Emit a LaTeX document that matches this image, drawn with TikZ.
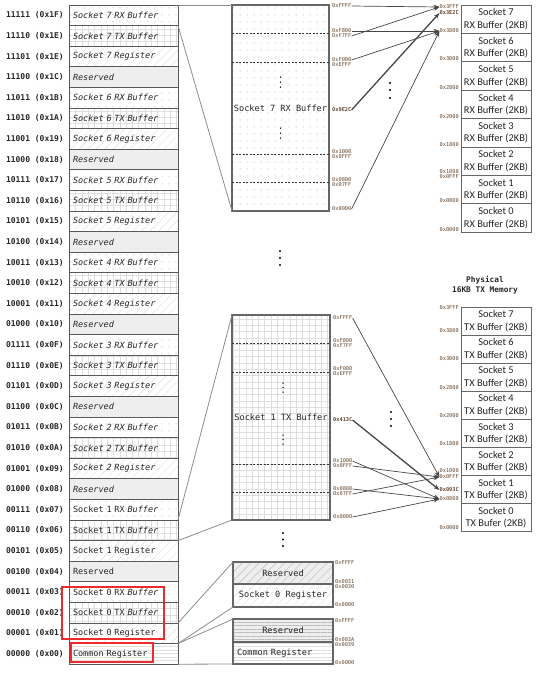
\documentclass[tikz,border=0pt]{standalone}
\usepackage{fontspec}
\usetikzlibrary{patterns.meta,arrows.meta}
\newfontfamily\monof[ItalicFont={DejaVu Sans Mono Oblique},BoldFont={DejaVu Sans Mono Bold}]{DejaVu Sans Mono}
\newfontfamily\calf{Carlito}
\definecolor{addrc}{RGB}{100,70,45}
\definecolor{patc}{RGB}{222,222,222}
\definecolor{dotc}{RGB}{210,210,210}
\definecolor{resc}{RGB}{238,238,238}
\definecolor{hlred}{RGB}{234,44,44}
\newcommand\mrow[5]{%
  \node[#3] (r#1) at (69,#2) {#5};
  \node[lab] (l#1) at ([xshift=-5pt]r#1.west) {#4};}
\begin{document}
\begin{tikzpicture}[x=1pt,y=-1pt,
  rowbox/.style={draw=black!65, line width=0.9pt, minimum width=109pt, minimum height=20.6pt, text width=101pt, inner xsep=4pt, inner ysep=0pt, outer sep=0pt, align=left, anchor=north west, font=\monof\fontsize{8.5}{9}\selectfont, text=black!85},
  rx/.style={rowbox, pattern={Dots[distance=6.5pt,radius=0.8pt]}, pattern color=dotc},
  tx/.style={rowbox, pattern={Hatch[distance=6.3pt,line width=0.4pt]}, pattern color=patc},
  reg/.style={rowbox, pattern={Lines[angle=45,distance=6pt,line width=0.4pt]}, pattern color=patc},
  res/.style={rowbox, fill=resc},
  com/.style={rowbox, pattern={Lines[angle=0,distance=3.5pt,line width=0.4pt]}, pattern color=patc},
  lab/.style={anchor=east, inner sep=0pt, font=\monof\bfseries\fontsize{8}{9}\selectfont, text=black!85},
  addr/.style={anchor=west, inner sep=0pt, font=\monof\fontsize{5.3}{6}\selectfont, text=addrc},
  addrb/.style={addr, font=\monof\bfseries\fontsize{5.3}{6}\selectfont},
  paddr/.style={addr, anchor=east},
  paddrb/.style={addrb, anchor=east},
  blk/.style={draw=black!60, line width=1.1pt, anchor=north west, outer sep=0pt, inner sep=0pt, font=\monof\fontsize{8.6}{10}\selectfont, text=black!85},
  phys/.style={draw=black!60, line width=0.9pt, fill=white, anchor=north west, outer sep=0pt, inner sep=0pt, minimum width=70pt, align=center, font=\calf\fontsize{10.4}{12.5}\selectfont, text=black!85},
  arr/.style={draw=black!72, line width=0.7pt, -{Stealth[length=6pt,width=4.5pt]}},
  arrb/.style={arr, line width=1.3pt},
  conn/.style={draw=black!45, line width=0.8pt},
  dashln/.style={draw=black!80, line width=0.6pt, dash pattern=on 2pt off 1.5pt},
  hl/.style={draw=hlred, line width=2.5pt},
  bigdot/.style={fill=black},
  title/.style={align=center, inner sep=0pt, font=\monof\bfseries\fontsize{7.8}{10}\selectfont, text=black!85}
]
\useasboundingbox (0,0) rectangle (548,678);

% ---------------- left column ----------------
\mrow{0}{5}{rx}{11111 (0x1F)}{\itshape Socket 7 RX Buffer}
\mrow{1}{25.6}{tx}{11110 (0x1E)}{\itshape Socket 7 TX Buffer}
\mrow{2}{46.2}{reg}{11101 (0x1E)}{\itshape Socket 7 Register}
\mrow{3}{66.8}{res}{11100 (0x1C)}{\itshape Reserved}
\mrow{4}{87.4}{rx}{11011 (0x1B)}{\itshape Socket 6 RX Buffer}
\mrow{5}{108}{tx}{11010 (0x1A)}{\itshape Socket 6 TX Buffer}
\mrow{6}{128.6}{reg}{11001 (0x19)}{\itshape Socket 6 Register}
\mrow{7}{149.2}{res}{11000 (0x18)}{\itshape Reserved}
\mrow{8}{169.8}{rx}{10111 (0x17)}{\itshape Socket 5 RX Buffer}
\mrow{9}{190.4}{tx}{10110 (0x16)}{\itshape Socket 5 TX Buffer}
\mrow{10}{211}{reg}{10101 (0x15)}{\itshape Socket 5 Register}
\mrow{11}{231.6}{res}{10100 (0x14)}{\itshape Reserved}
\mrow{12}{252.2}{rx}{10011 (0x13)}{\itshape Socket 4 RX Buffer}
\mrow{13}{272.8}{tx}{10010 (0x12)}{\itshape Socket 4 TX Buffer}
\mrow{14}{293.4}{reg}{10001 (0x11)}{\itshape Socket 4 Register}
\mrow{15}{314}{res}{01000 (0x10)}{\itshape Reserved}
\mrow{16}{334.6}{rx}{01111 (0x0F)}{\itshape Socket 3 RX Buffer}
\mrow{17}{355.2}{tx}{01110 (0x0E)}{\itshape Socket 3 TX Buffer}
\mrow{18}{375.8}{reg}{01101 (0x0D)}{\itshape Socket 3 Register}
\mrow{19}{396.4}{res}{01100 (0x0C)}{\itshape Reserved}
\mrow{20}{417}{rx}{01011 (0x0B)}{\itshape Socket 2 RX Buffer}
\mrow{21}{437.6}{tx}{01010 (0x0A)}{\itshape Socket 2 TX Buffer}
\mrow{22}{458.2}{reg}{01001 (0x09)}{\itshape Socket 2 Register}
\mrow{23}{478.8}{res}{01000 (0x08)}{\itshape Reserved}
\mrow{24}{499.4}{rx}{00111 (0x07)}{Socket 1 RX \textit{Buffer}}
\mrow{25}{520}{tx}{00110 (0x06)}{Socket 1 TX \textit{Buffer}}
\mrow{26}{540.6}{reg}{00101 (0x05)}{Socket 1 Register}
\mrow{27}{561.2}{res}{00100 (0x04)}{Reserved}
\mrow{28}{581.8}{rx}{00011 (0x03)}{Socket 0 RX \textit{Buffer}}
\mrow{29}{602.4}{tx}{00010 (0x02)}{Socket 0 TX \textit{Buffer}}
\mrow{30}{623}{reg}{00001 (0x01)}{Socket 0 Register}
\mrow{31}{643.6}{com}{00000 (0x00)}{Common Register}

% ---------------- middle blocks ----------------
\node[blk, minimum width=97pt, minimum height=206pt, pattern={Dots[distance=6.5pt,radius=0.8pt]}, pattern color=dotc] (b7) at (232,5) {};
\node[blk, draw=none] (b7t) at (280.5,108) [anchor=center] {Socket 7 RX Buffer};
\foreach \yy in {33,62,154,182} \draw[dashln] (232,\yy) -- (329,\yy);
\foreach \yy in {77,82,87,128,133,138} \fill (280.5,\yy) circle (0.75pt);

\node[blk, minimum width=98pt, minimum height=205pt, pattern={Hatch[distance=6.3pt,line width=0.4pt]}, pattern color=patc] (b1) at (232,315) {};
\node[blk, draw=none] (b1t) at (281,417) [anchor=center] {Socket 1 TX Buffer};
\foreach \yy in {343,372,464,492} \draw[dashln] (232,\yy) -- (330,\yy);
\foreach \yy in {383,387.5,392,435,439.5,444} \fill (283,\yy) circle (0.75pt);

% socket 0 register block
\node[blk, minimum width=100pt, minimum height=22pt, preaction={fill=resc}, pattern={Lines[angle=45,distance=6pt,line width=0.4pt]}, pattern color=patc!85!black] (s0r) at (233,562) {Reserved};
\node[blk, minimum width=100pt, minimum height=23pt, pattern={Lines[angle=45,distance=6pt,line width=0.4pt]}, pattern color=patc] (s0g) at (233,584) {Socket 0 Register};
% common register block
\node[blk, minimum width=100pt, minimum height=23pt, preaction={fill=resc}, pattern={Lines[angle=0,distance=3.5pt,line width=0.4pt]}, pattern color=patc!85!black] (cr) at (233,619) {Reserved};
\node[blk, minimum width=100pt, minimum height=22pt, text width=92pt, inner xsep=4pt, align=left, pattern={Lines[angle=0,distance=3.5pt,line width=0.4pt]}, pattern color=patc] (cg) at (233,642) {Common Register};

% ellipses between blocks
\foreach \yy in {251,258,265} \fill[bigdot] (280,\yy) circle (1.2pt);
\foreach \yy in {533,539.5,546} \fill[bigdot] (283,\yy) circle (1.2pt);
\foreach \yy in {83,90,98} \fill[bigdot] (390,\yy) circle (1.2pt);
\foreach \yy in {412,419,426} \fill[bigdot] (391,\yy) circle (1.2pt);

% ---------------- connectors left -> middle ----------------
\draw[conn] (r0.north east) -- (b7.north west);
\draw[conn] (r0.south east) -- (b7.south west);
\draw[conn] (r25.north east) -- (b1.north west);
\draw[conn] (r25.south east) -- (b1.south west);
\draw[conn] (r30.north east) -- (s0r.north west);
\draw[conn] (r30.south east) -- (s0g.south west);
\draw[conn] (r31.north east) -- (cr.north west);
\draw[conn] (r31.south east) -- (cg.south west);

% ---------------- address labels: middle RX ----------------
\node[addr] (mrFFFF) at (332,6) {0xFFFF};
\node[addr] (mrF800) at (332,31) {0xF800};
\node[addr] (mrF7FF) at (332,36) {0xF7FF};
\node[addr] (mrF000) at (332,60) {0xF000};
\node[addr] (mrEFFF) at (332,65) {0xEFFF};
\node[addrb] (mr9E2C) at (332,110) {0x9E2C};
\node[addr] (mr1000) at (332,152) {0x1000};
\node[addr] (mr0FFF) at (332,157) {0x0FFF};
\node[addr] (mr0800) at (332,180) {0x0800};
\node[addr] (mr07FF) at (332,185) {0x07FF};
\node[addr] (mr0000) at (332,209) {0x0000};

% middle TX
\node[addr] (mtFFFF) at (333,318) {0xFFFF};
\node[addr] (mtF800) at (333,341) {0xF800};
\node[addr] (mtF7FF) at (333,346) {0xF7FF};
\node[addr] (mtF000) at (333,369) {0xF000};
\node[addr] (mtEFFF) at (333,374) {0xEFFF};
\node[addrb] (mt413C) at (333,420) {0x413C};
\node[addr] (mt1000) at (333,461) {0x1000};
\node[addr] (mt0FFF) at (333,466) {0x0FFF};
\node[addr] (mt0800) at (333,489) {0x0800};
\node[addr] (mt07FF) at (333,494) {0x07FF};
\node[addr] (mt0000) at (333,517) {0x0000};

% socket 0 / common
\node[addr] (saFFFF) at (335,563) {0xFFFF};
\node[addr] (sa0031) at (335,582) {0x0031};
\node[addr] (sa0030) at (335,587) {0x0030};
\node[addr] (sa0000) at (335,605) {0x0000};
\node[addr] (caFFFF) at (335,621) {0xFFFF};
\node[addr] (ca003A) at (335,640) {0x003A};
\node[addr] (ca0039) at (335,645) {0x0039};
\node[addr] (ca0000) at (335,663) {0x0000};

% ---------------- physical RX memory ----------------
\node[phys, minimum height=28.4pt] (prs7) at (461,5) {Socket 7\\RX Buffer (2KB)};
\node[phys, minimum height=28.4pt] (prs6) at (461,33.4) {Socket 6\\RX Buffer (2KB)};
\node[phys, minimum height=28.4pt] (prs5) at (461,61.8) {Socket 5\\RX Buffer (2KB)};
\node[phys, minimum height=28.4pt] (prs4) at (461,90.2) {Socket 4\\RX Buffer (2KB)};
\node[phys, minimum height=28.4pt] (prs3) at (461,118.6) {Socket 3\\RX Buffer (2KB)};
\node[phys, minimum height=28.4pt] (prs2) at (461,147) {Socket 2\\RX Buffer (2KB)};
\node[phys, minimum height=28.4pt] (prs1) at (461,175.4) {Socket 1\\RX Buffer (2KB)};
\node[phys, minimum height=28.4pt] (prs0) at (461,203.8) {Socket 0\\RX Buffer (2KB)};

\node[paddr] (pr3FFF) at (459,7) {0x3FFF};
\node[paddrb] (pr3E2C) at (459,13) {0x3E2C};
\node[paddr] (pr3800) at (459,31) {0x3800};
\node[paddr] (pr3000) at (459,59) {0x3000};
\node[paddr] (pr2800) at (459,88) {0x2800};
\node[paddr] (pr2000) at (459,117) {0x2000};
\node[paddr] (pr1800) at (459,145) {0x1800};
\node[paddr] (pr1000) at (459,172) {0x1000};
\node[paddr] (pr0FFF) at (459,177) {0x0FFF};
\node[paddr] (pr0800) at (459,201) {0x0800};
\node[paddr] (pr0000) at (459,230) {0x0000};

% ---------------- physical TX memory ----------------
\node[title] (ttl) at (485,285) {Physical\\16KB TX Memory};
\node[phys, minimum height=28.1pt] (pts7) at (461,307) {Socket 7\\TX Buffer (2KB)};
\node[phys, minimum height=28.1pt] (pts6) at (461,335.1) {Socket 6\\TX Buffer (2KB)};
\node[phys, minimum height=28.1pt] (pts5) at (461,363.2) {Socket 5\\TX Buffer (2KB)};
\node[phys, minimum height=28.1pt] (pts4) at (461,391.3) {Socket 4\\TX Buffer (2KB)};
\node[phys, minimum height=28.1pt] (pts3) at (461,419.4) {Socket 3\\TX Buffer (2KB)};
\node[phys, minimum height=28.1pt] (pts2) at (461,447.5) {Socket 2\\TX Buffer (2KB)};
\node[phys, minimum height=28.1pt] (pts1) at (461,475.6) {Socket 1\\TX Buffer (2KB)};
\node[phys, minimum height=28.1pt] (pts0) at (461,503.7) {Socket 0\\TX Bufer (2KB)};

\node[paddr] (pt3FFF) at (459,308) {0x3FFF};
\node[paddr] (pt3800) at (459,331) {0x3800};
\node[paddr] (pt3000) at (459,359) {0x3000};
\node[paddr] (pt2800) at (459,388) {0x2800};
\node[paddr] (pt2000) at (459,416) {0x2000};
\node[paddr] (pt1800) at (459,444) {0x1800};
\node[paddr] (pt1000) at (459,471) {0x1000};
\node[paddr] (pt0FFF) at (459,477) {0x0FFF};
\node[paddrb] (pt093C) at (459,490) {0x093C};
\node[paddr] (pt0800) at (459,499) {0x0800};
\node[paddr] (pt0000) at (459,528) {0x0000};

% ---------------- address arrows ----------------
\draw[arr] (mrFFFF.east) -- (pr3FFF.west);
\draw[arr] (mrF7FF.east) -- (pr3FFF.west);
\draw[arr] (mrF800.east) -- (pr3800.west);
\draw[arr] (mrF000.east) -- (pr3800.west);
\draw[arrb] (mr9E2C.east) -- (pr3E2C.west);
\draw[arr] (mr0000.east) -- (pr3800.west);

\draw[arr] (mtFFFF.east) -- (pt0FFF.west);
\draw[arrb] (mt413C.east) -- (pt093C.west);
\draw[arr] (mt1000.east) -- (pt0800.west);
\draw[arr] (mt0FFF.east) -- (pt0FFF.west);
\draw[arr] (mt0800.east) -- (pt0800.west);
\draw[arr] (mt07FF.east) -- (pt0FFF.west);
\draw[arr] (mt0000.east) -- (pt0800.west);

% ---------------- highlight boxes ----------------
\draw[hl] (62,587) rectangle (164,639);
\draw[hl] (71,643) rectangle (153,662);
\end{tikzpicture}
\end{document}
